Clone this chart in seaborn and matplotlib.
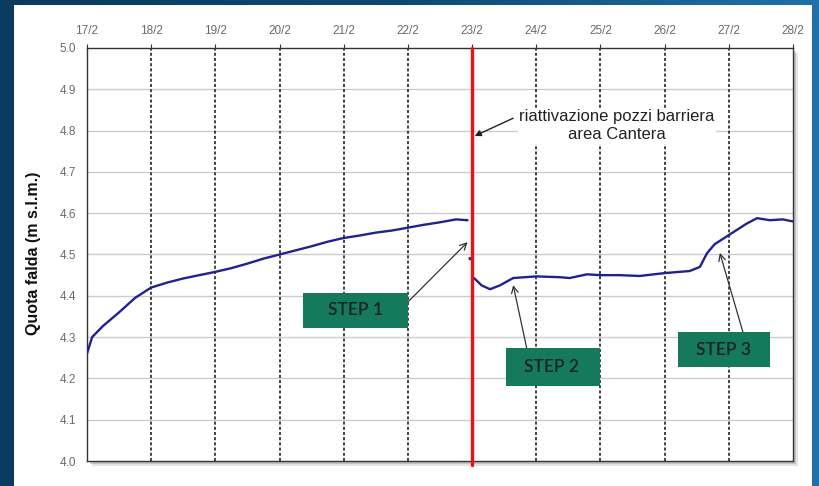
import numpy as np
import pandas as pd
import matplotlib
matplotlib.use("Agg")
import matplotlib.pyplot as plt
from matplotlib.patches import Rectangle
from matplotlib.colors import LinearSegmentedColormap
import seaborn as sns

# Groundwater level readings (day of February, level in m s.l.m.)
days_before = [17.00, 17.08, 17.25, 17.50, 17.75, 18.00, 18.25, 18.50, 18.75,
               19.00, 19.25, 19.50, 19.75, 20.00, 20.25, 20.50, 20.75, 21.00,
               21.25, 21.50, 21.75, 22.00, 22.25, 22.50, 22.75, 22.93]
level_before = [4.260, 4.300, 4.327, 4.360, 4.395, 4.420, 4.432, 4.442, 4.450,
                4.458, 4.467, 4.478, 4.490, 4.500, 4.510, 4.520, 4.531, 4.540,
                4.546, 4.553, 4.558, 4.565, 4.572, 4.578, 4.585, 4.583]
days_jump = [22.97]
level_jump = [4.490]
days_after = [23.03, 23.15, 23.28, 23.43, 23.64, 24.00, 24.37, 24.52, 24.79,
              25.00, 25.30, 25.61, 26.00, 26.39, 26.55, 26.66, 26.78, 27.00,
              27.28, 27.44, 27.64, 27.84, 28.00]
level_after = [4.443, 4.425, 4.416, 4.425, 4.443, 4.447, 4.445, 4.443, 4.452,
               4.450, 4.450, 4.448, 4.455, 4.460, 4.470, 4.503, 4.525, 4.547,
               4.575, 4.588, 4.583, 4.585, 4.580]

tick_days = list(range(17, 29))
tick_labels = [f"{d}/2" for d in tick_days]
y_ticks = [4.0, 4.1, 4.2, 4.3, 4.4, 4.5, 4.6, 4.7, 4.8, 4.9, 5.0]
restart_day = 23.0

df_before = pd.DataFrame({"day": days_before, "level": level_before})
df_after = pd.DataFrame({"day": days_after, "level": level_after})

sns.set_style("white")
plt.rcParams['font.family'] = ['Liberation Sans', 'DejaVu Sans']

W, H = 819, 486
fig = plt.figure(figsize=(W / 100, H / 100), dpi=100)

# blue gradient background
bg = fig.add_axes([0, 0, 1, 1], zorder=-10)
cmap = LinearSegmentedColormap.from_list("bg", ["#0a3a5f", "#0f4a75", "#2170a8"])
grad = np.linspace(0, 1, 256)[None, :]
bg.imshow(grad, aspect="auto", cmap=cmap, extent=[0, 1, 0, 1])
bg.set_axis_off()

# white slide panel
fig.patches.append(Rectangle((14 / W, 0), (812 - 14) / W, (H - 5) / H,
                             transform=fig.transFigure, facecolor="white",
                             edgecolor="none", zorder=-5))

ax_l, ax_r, ax_t, ax_b = 87, 793, 48, 461
rect = [ax_l / W, 1 - ax_b / H, (ax_r - ax_l) / W, (ax_b - ax_t) / H]

# soft shadow behind the plot area
for off, a in [(5, 0.18), (3, 0.3)]:
    fig.patches.append(Rectangle((rect[0] + off / W, rect[1] - off / H), rect[2], rect[3],
                                 transform=fig.transFigure, facecolor="#707070",
                                 edgecolor="none", alpha=a, zorder=-4))

ax = fig.add_axes(rect)
ax.set_facecolor("white")

sns.lineplot(data=df_before, x="day", y="level", ax=ax, color="#22228f", lw=1.7, zorder=5)
sns.lineplot(data=df_after, x="day", y="level", ax=ax, color="#22228f", lw=1.7, zorder=5)
sns.scatterplot(x=days_jump, y=level_jump, ax=ax, color="#22228f", s=6, edgecolor="none", zorder=5)

ax.axvline(restart_day, color="#ee1111", lw=2.4, zorder=6, clip_on=False, ymin=-0.01)

ax.set_xlim(17, 28)
ax.set_ylim(4.0, 5.0)
ax.set_xticks(tick_days)
ax.set_xticklabels(tick_labels)
ax.set_yticks(y_ticks)
ax.set_yticklabels([f"{v:.1f}" for v in y_ticks])
ax.xaxis.tick_top()
ax.tick_params(axis="both", direction="out", length=3, width=0.8, color="#333333",
               labelsize=8.5, labelcolor="#6a6a6a", pad=5)

for y in y_ticks[1:-1]:
    ax.axhline(y, color="#cccccc", lw=1.0, zorder=1)
for d in tick_days[1:-1]:
    ax.axvline(d, color="#111111", lw=1.1, ls=(0, (2, 1.4)), zorder=2)

for s in ax.spines.values():
    s.set_color("#333333")
    s.set_linewidth(1.0)

ax.set_xlabel("")
ax.set_ylabel("")
fig.text(34 / W, 1 - 253 / H, "Quota falda (m s.l.m.)", rotation=90, ha="center",
         va="center", fontsize=11.5, fontweight="bold", color="#111111")

# annotation for the restart of the barrier wells
ax.text(25.26, 4.812, "riattivazione pozzi barriera\narea Cantera", ha="center",
        va="center", fontsize=12, color="#222222", linespacing=1.2, zorder=7,
        bbox=dict(boxstyle="square,pad=0.1", facecolor="white", edgecolor="none"))
ax.annotate("", xy=(23.04, 4.787), xytext=(23.64, 4.830), zorder=7,
            arrowprops=dict(arrowstyle="-|>", color="#222222", lw=1.0, mutation_scale=9,
                            shrinkA=0, shrinkB=0))

# STEP boxes
steps = [("STEP 1", (20.364, 4.322), (22.0, 4.407), (21.18, 4.365), (22.0, 4.385), (22.93, 4.530)),
         ("STEP 2", (23.526, 4.182), (24.99, 4.274), (24.24, 4.228), (23.85, 4.274), (23.64, 4.426)),
         ("STEP 3", (26.206, 4.228), (27.64, 4.312), (26.91, 4.269), (27.22, 4.312), (26.86, 4.504))]
for label, (x0, y0), (x1, y1), (tx, ty), tail, head in steps:
    ax.add_patch(Rectangle((x0, y0), x1 - x0, y1 - y0, facecolor="#157a5c",
                           edgecolor="none", zorder=8))
    ax.text(tx, ty, label, ha="center", va="center", fontsize=12.5, color="#152420",
            family=["Lato", "DejaVu Sans"], fontweight="semibold", zorder=9)
    ax.annotate("", xy=head, xytext=tail, zorder=7,
                arrowprops=dict(arrowstyle="->", color="#333333", lw=0.9, mutation_scale=12,
                                shrinkA=0, shrinkB=0))

fig.savefig("out.png", dpi=100)
plt.close(fig)
